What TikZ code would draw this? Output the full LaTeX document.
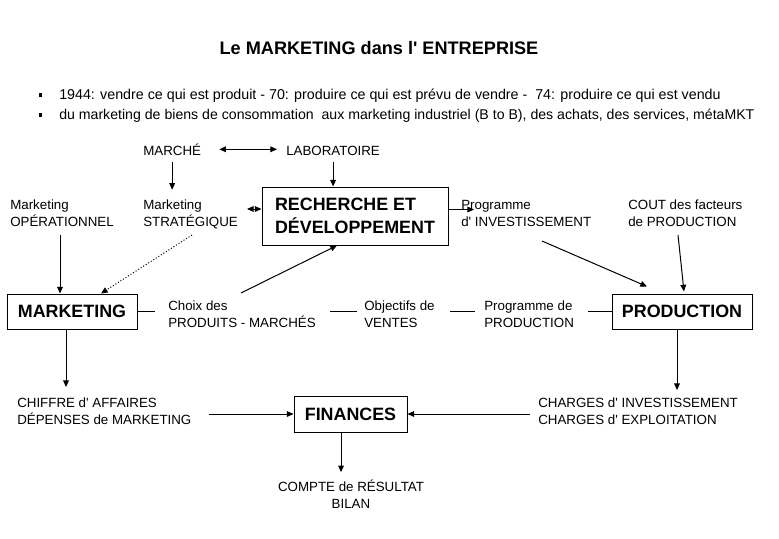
\documentclass[tikz,border=0pt]{standalone}
\usepackage{fontspec}
\setmainfont{Liberation Sans}[Ligatures=TeXOff]
\usetikzlibrary{arrows.meta}
\begin{document}
\begin{tikzpicture}[x=0.75pt,y=-0.75pt,
  txt/.style={font=\fontsize{10}{12.75}\selectfont, inner sep=0pt, anchor=base west, align=left},
  box/.style={draw, line width=0.75pt, font=\fontsize{13.4}{17.25}\selectfont\bfseries, inner sep=0pt},
  tip/.tip={Triangle[length=5pt,width=4.3pt]},
  arr/.style={line width=0.75pt, -tip},
  dbl/.style={line width=0.75pt, tip-tip},
  ln/.style={line width=0.75pt},
  bul/.style={fill, inner sep=0pt, minimum size=2.5pt}]
\useasboundingbox (0,0) rectangle (779,539);

% title and bullets
\node[font=\fontsize{13.6}{16}\selectfont\bfseries, inner sep=0pt, anchor=base] (title) at (379,55) {Le MARKETING dans l' ENTREPRISE};
\node[bul] (b1) at (40.5,95) {};
\node[bul] (b2) at (40.5,115) {};
\node[txt, font=\fontsize{10.7}{13}\selectfont] (l1) at (59,99.5) {1944: vendre ce qui est produit - 70: produire ce qui est prévu de vendre -\ \ 74: produire ce qui est vendu};
\node[txt, font=\fontsize{10.6}{13}\selectfont] (l2) at (59,119.5) {du marketing de biens de consommation\ \ aux marketing industriel (B to B), des achats, des services, métaMKT};

% labels (multi-line nodes: base = baseline of last line)
\node[txt] (marche) at (143,155) {MARCHÉ};
\node[txt] (labo) at (286,155) {LABORATOIRE};
\node[txt] (mop) at (10,226) {Marketing\\OPÉRATIONNEL};
\node[txt] (mst) at (143,226) {Marketing\\STRATÉGIQUE};
\node[txt] (pinv) at (461,226) {Programme\\d' INVESTISSEMENT};
\node[txt] (cout) at (628,226) {COUT des facteurs\\de PRODUCTION};
\node[txt] (choix) at (168,327) {Choix des\\PRODUITS - MARCHÉS};
\node[txt] (obj) at (364,327) {Objectifs de\\VENTES};
\node[txt] (pprod) at (484,327) {Programme de\\PRODUCTION};
\node[txt] (ca) at (17,424) {CHIFFRE d' AFFAIRES\\DÉPENSES de MARKETING};
\node[txt] (charges) at (538,424) {CHARGES d' INVESTISSEMENT\\CHARGES d' EXPLOITATION};
\node[txt, align=center, anchor=base] (cr) at (351,508) {COMPTE de RÉSULTAT\\BILAN};

% boxes
\node[box, minimum width=139.5pt, minimum height=43.5pt, align=left] (rd) at (355,216) {RECHERCHE ET\\DÉVELOPPEMENT};
\node[box, minimum width=97.5pt, minimum height=26.25pt] (mkt) at (72,311.5) {MARKETING};
\node[box, minimum width=105pt, minimum height=26.25pt] (prod) at (682,311.5) {PRODUCTION};
\node[box, minimum width=84.75pt, minimum height=27pt] (fin) at (350.5,414) {FINANCES};

% free ends
\coordinate (sr) at (247,209);
\coordinate (op) at (60,235);
\coordinate (st) at (192,235);
\coordinate (cp) at (241,293);
\coordinate (pi) at (474,209.5);
\coordinate (a1) at (542,241);
\coordinate (a2) at (678,235);

% connectors
\draw[dbl, shorten <=13.5pt, shorten >=6.75pt] (marche.east) -- (marche.east -| labo.west);
\draw[arr, shorten <=5.25pt, shorten >=7pt] (marche.south) -- (marche.south |- mst.north);
\draw[arr, shorten <=5.25pt] (labo.south) -- (labo.south |- rd.north);
\draw[dbl] (sr) -- (sr -| rd.west);
\draw[arr] (op) -- (op |- mkt.north);
\draw[arr, dash pattern=on 0.75pt off 1.5pt] (st) -- ([xshift=21.75pt]mkt.north);
\draw[arr] (cp) -- ([xshift=-13.5pt]rd.south);
\draw[arr] (pi -| rd.east) -- (pi);
\draw[arr] (a1) -- ([xshift=-26.25pt,yshift=5.25pt]prod.north);
\draw[arr] (a2) -- ([xshift=1.5pt,yshift=1.5pt]prod.north);
\draw[ln, shorten >=9.75pt] (mkt.east) -- (mkt.east -| choix.west);
\draw[ln, shorten >=5.25pt] ([xshift=-25.5pt]mkt.east -| obj.west) -- (mkt.east -| obj.west);
\draw[ln, shorten >=6.75pt] ([xshift=-25.5pt]mkt.east -| pprod.west) -- (mkt.east -| pprod.west);
\draw[ln] ([xshift=-18pt]prod.west) -- (prod.west);
\draw[arr, shorten >=7.5pt] ([xshift=-4.5pt]mkt.south) -- ([xshift=-4.5pt]mkt.south |- ca.north);
\draw[arr, shorten <=12.75pt] (fin.west -| ca.east) -- (fin.west);
\draw[arr, shorten >=5.25pt] ([xshift=-7.1pt]fin.south) -- ([xshift=-7.1pt]fin.south |- cr.north);
\draw[arr, shorten >=5.25pt] ([xshift=-3.75pt]prod.south) -- ([xshift=-3.75pt]prod.south |- charges.north);
\draw[arr, shorten <=6pt] (fin.east -| charges.west) -- (fin.east);
\end{tikzpicture}
\end{document}
